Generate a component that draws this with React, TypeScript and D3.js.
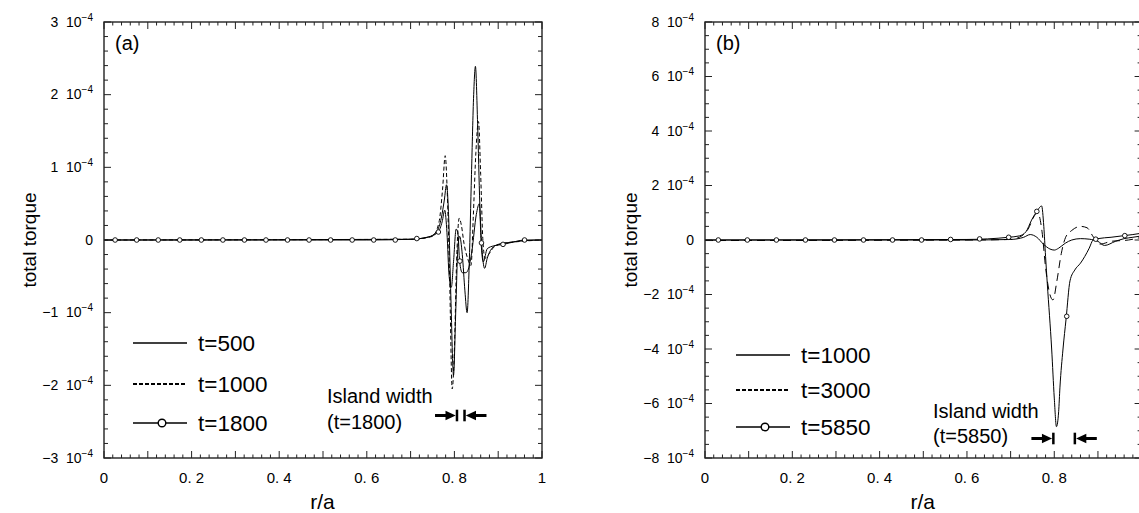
import React from "react";
import * as d3 from "d3";

type Pt = [number, number];

// values are in units of 1e-4 (total torque) against r/a

// panel (a)
const aT500: Pt[] = [
  [0, 0], [0.6, 0], [0.7, 0.01], [0.74, 0.04], [0.76, 0.12], [0.77, 0.3], [0.777, 0.55],
  [0.782, 0.76], [0.787, 0.3], [0.792, -0.8], [0.798, -1.86], [0.803, -1.0], [0.808, -0.1],
  [0.812, 0.05], [0.818, -0.2], [0.824, -0.7], [0.829, -1.0], [0.834, -0.3], [0.839, 0.9],
  [0.844, 2.0], [0.848, 2.39], [0.853, 1.6], [0.858, 0.5], [0.864, -0.2], [0.869, -0.39],
  [0.875, -0.25], [0.885, -0.12], [0.9, -0.06], [0.93, -0.03], [0.96, -0.01], [1, 0],
];
const aT1000: Pt[] = [
  [0, 0], [0.7, 0.01], [0.75, 0.05], [0.765, 0.25], [0.773, 0.7], [0.779, 1.16], [0.784, 0.6],
  [0.789, -0.5], [0.795, -2.05], [0.8, -1.5], [0.805, -0.3], [0.811, 0.3], [0.816, 0.2],
  [0.822, -0.05], [0.83, -0.25], [0.838, -0.35], [0.843, 0.3], [0.849, 1.2], [0.855, 1.63],
  [0.86, 0.9], [0.865, 0.0], [0.87, -0.25], [0.878, -0.2], [0.89, -0.1], [0.91, -0.05],
  [0.95, -0.02], [1, 0],
];
const aT1800: Pt[] = [
  [0, 0], [0.7, 0.01], [0.74, 0.04], [0.763, 0.11], [0.772, 0.25], [0.778, 0.41], [0.783, 0.1],
  [0.788, -0.5], [0.793, -0.65], [0.798, -0.3], [0.804, 0.15], [0.808, 0.1], [0.812, -0.3],
  [0.818, -0.45], [0.826, -0.45], [0.832, -0.4], [0.84, -0.15], [0.85, 0.35], [0.857, 0.5],
  [0.861, -0.04], [0.866, -0.3], [0.875, -0.12], [0.89, -0.08], [0.912, -0.06], [0.94, -0.02],
  [0.96, 0], [1, 0],
];
const aT1800Marks: Pt[] = [
  [0.0254, 0], [0.0746, 0], [0.1238, 0], [0.173, 0], [0.2222, 0], [0.2714, 0], [0.3206, 0],
  [0.3698, 0], [0.419, 0], [0.4682, 0], [0.5174, 0], [0.5666, 0], [0.6158, 0], [0.665, 0],
  [0.7142, 0.02], [0.7634, 0.11], [0.8126, -0.29], [0.8618, -0.04], [0.911, -0.06], [0.9602, 0],
];
const aLegend = ["t=500", "t=1000", "t=1800"];
const aIsland = [0.806, 0.823];
const aIslandLabel = ["Island width", "(t=1800)"];

// panel (b)
const bT1000: Pt[] = [
  [0, 0], [0.6, 0], [0.7, 0.02], [0.73, 0.1], [0.745, 0.2], [0.76, 0.1], [0.775, -0.15],
  [0.79, -0.33], [0.8, -0.37], [0.81, -0.3], [0.825, -0.12], [0.84, 0], [0.86, 0.05],
  [0.88, 0.03], [0.9, -0.05], [0.915, -0.2], [0.94, -0.05], [0.96, 0.05], [0.98, 0.1], [1, 0.15],
];
const bT3000: Pt[] = [
  [0, -0.02], [0.6, 0], [0.7, 0.02], [0.72, 0.1], [0.74, 0.4], [0.755, 0.9], [0.762, 1.0],
  [0.772, 0.3], [0.78, -1.0], [0.79, -2.0], [0.797, -2.2], [0.806, -1.5], [0.816, -0.5],
  [0.826, 0.1], [0.84, 0.35], [0.86, 0.5], [0.875, 0.45], [0.89, 0.1], [0.905, -0.15],
  [0.93, -0.05], [0.97, 0], [1, 0.1],
];
const bT5850: Pt[] = [
  [0, 0], [0.6, 0.02], [0.695, 0.1], [0.72, 0.15], [0.735, 0.3], [0.748, 0.73], [0.762, 1.1],
  [0.771, 1.25], [0.776, 0.5], [0.78, -0.6], [0.784, -1.6], [0.794, -4.0], [0.8, -5.8],
  [0.805, -6.85], [0.81, -6.3], [0.813, -5.4], [0.82, -4.0], [0.827, -2.9], [0.836, -1.5],
  [0.847, -1.1], [0.86, -0.85], [0.87, -0.6], [0.88, -0.3], [0.889, 0], [0.9, 0.05],
  [0.93, 0.1], [0.96, 0.16], [0.98, 0.2], [1, 0.25],
];
const bT5850Marks: Pt[] = [
  [0.0305, 0], [0.097, 0], [0.1635, 0], [0.23, 0], [0.2965, 0], [0.363, 0], [0.4295, 0],
  [0.496, 0], [0.5625, 0.02], [0.629, 0.04], [0.6955, 0.1], [0.76, 1.05], [0.8285, -2.8],
  [0.895, 0.03], [0.9615, 0.16],
];
const bLegend = ["t=1000", "t=3000", "t=5850"];
const bIsland = [0.798, 0.847];
const bIslandLabel = ["Island width", "(t=5850)"];

const xTickVals = [0, 0.2, 0.4, 0.6, 0.8, 1];
const xTickLabels = ["0", "0. 2", "0. 4", "0. 6", "0. 8", "1"];
const aYTicks = [-3, -2, -1, 0, 1, 2, 3];
const bYTicks = [-8, -6, -4, -2, 0, 2, 4, 6, 8];

const W = 1139;
const H = 513;
const FONT = "'Liberation Sans', Arial, Helvetica, sans-serif";

type PanelSpec = {
  left: number; right: number; top: number; bottom: number;
  yDomain: [number, number]; yTicks: number[]; yMinor: number;
  lines: { data: Pt[]; dash?: string }[];
  marks: Pt[];
  legend: string[];
  legendX: number; legendY: number[];
  legendDash: string;
  island: number[]; islandY: number;
  islandLabel: string[]; islandLabelX: number; islandLabelY: number[];
  tag: string;
};

const panels: PanelSpec[] = [
  {
    left: 104, right: 542, top: 22, bottom: 458, yDomain: [-3, 3], yTicks: aYTicks, yMinor: 0.2,
    lines: [{ data: aT500 }, { data: aT1000, dash: "4,2.5" }, { data: aT1800 }],
    marks: aT1800Marks, legend: aLegend, legendX: 133, legendY: [343, 384, 423], legendDash: "4,2",
    island: aIsland, islandY: 415.5, islandLabel: aIslandLabel, islandLabelX: 327,
    islandLabelY: [403, 429], tag: "(a)",
  },
  {
    left: 705, right: 1141.6, top: 22, bottom: 458, yDomain: [-8, 8], yTicks: bYTicks, yMinor: 0.5,
    lines: [{ data: bT1000 }, { data: bT3000, dash: "8,5" }, { data: bT5850 }],
    marks: bT5850Marks, legend: bLegend, legendX: 736, legendY: [355, 390, 427], legendDash: "4,2",
    island: bIsland, islandY: 438.5, islandLabel: bIslandLabel, islandLabelX: 933,
    islandLabelY: [418, 443], tag: "(b)",
  },
];

function Panel({ p }: { p: PanelSpec }) {
  const x = d3.scaleLinear().domain([0, 1]).range([p.left, p.right]);
  const y = d3.scaleLinear().domain(p.yDomain).range([p.bottom, p.top]);
  const line = d3.line<Pt>().x((d) => x(d[0])).y((d) => y(d[1])).curve(d3.curveMonotoneX);
  const xMinor = d3.range(0, 1.0001, 0.02);
  const yMinor = d3.range(p.yDomain[0], p.yDomain[1] + 1e-9, p.yMinor);
  const isXMajor = (v: number) => Math.abs(v * 10 - Math.round(v * 10)) < 1e-6;
  const isYMajor = (v: number) => p.yTicks.some((t) => Math.abs(t - v) < 1e-6);
  const ax = "#222";
  const labelEnd = p.left - 11;

  const [i1, i2] = p.island.map((r) => x(r));
  const ay = p.islandY;

  return (
    <g>
      {/* curves */}
      {p.lines.map((l, i) => (
        <path key={i} d={line(l.data) || ""} fill="none" stroke="#000" strokeWidth={1}
          strokeDasharray={l.dash} />
      ))}
      {p.marks.map((d, i) => (
        <circle key={i} cx={x(d[0])} cy={y(d[1])} r={2.3} fill="#fff" stroke="#000" strokeWidth={0.9} />
      ))}

      {/* frame */}
      <rect x={p.left} y={p.top} width={p.right - p.left} height={p.bottom - p.top}
        fill="none" stroke={ax} strokeWidth={1.4} />
      {xMinor.map((v, i) => {
        const len = isXMajor(v) ? 7 : 3.5;
        return (
          <g key={i}>
            <line x1={x(v)} x2={x(v)} y1={p.bottom} y2={p.bottom - len} stroke={ax} strokeWidth={1} />
            <line x1={x(v)} x2={x(v)} y1={p.top} y2={p.top + len} stroke={ax} strokeWidth={1} />
          </g>
        );
      })}
      {yMinor.map((v, i) => {
        const len = isYMajor(v) ? 7 : 4;
        return (
          <g key={i}>
            <line x1={p.left} x2={p.left + len} y1={y(v)} y2={y(v)} stroke={ax} strokeWidth={1} />
            <line x1={p.right} x2={p.right - len} y1={y(v)} y2={y(v)} stroke={ax} strokeWidth={1} />
          </g>
        );
      })}

      {/* tick labels (those falling past the picture edge are not shown, as in the source) */}
      {xTickVals.map((v, i) =>
        x(v) < W - 6 ? (
          <text key={i} x={x(v)} y={482.5} textAnchor="middle" fontSize={15} fontFamily={FONT}>
            {xTickLabels[i]}
          </text>
        ) : null
      )}
      {p.yTicks.map((v) => (
        <text key={v} x={labelEnd} y={y(v) + 4.8} textAnchor="end" fontSize={14} fontFamily={FONT}>
          {v === 0 ? (
            "0"
          ) : (
            <>
              {(v < 0 ? "\u2212" : "") + Math.abs(v) + "\u00a0\u00a010"}
              <tspan dy={-6} fontSize={10}>{"\u22124"}</tspan>
            </>
          )}
        </text>
      ))}

      {/* axis titles */}
      <text x={(p.left + Math.min(p.right, 1141.6)) / 2 - 0.5} y={509} textAnchor="middle"
        fontSize={21} fontFamily={FONT}>r/a</text>
      <text transform={`translate(${p.left - 68},${(p.top + p.bottom) / 2}) rotate(-90)`}
        textAnchor="middle" fontSize={19} fontFamily={FONT}>total torque</text>
      <text x={p.left + 11} y={50} fontSize={20} fontFamily={FONT}>{p.tag}</text>

      {/* legend */}
      {p.legend.map((lab, i) => {
        const ly = p.legendY[i];
        return (
          <g key={lab}>
            <line x1={p.legendX} x2={p.legendX + 54} y1={ly} y2={ly} stroke="#000"
              strokeWidth={i === 1 ? 2.2 : 1.6} strokeDasharray={i === 1 ? p.legendDash : undefined} />
            {i === 2 && (
              <circle cx={p.legendX + 29} cy={ly} r={3.8} fill="#fff" stroke="#000" strokeWidth={1.4} />
            )}
            <text x={p.legendX + 65} y={ly + 8} fontSize={22.5} fontFamily={FONT}>{lab}</text>
          </g>
        );
      })}

      {/* island width */}
      {p.islandLabel.map((s, i) => (
        <text key={s} x={p.islandLabelX} y={p.islandLabelY[i]} fontSize={20} fontFamily={FONT}>{s}</text>
      ))}
      <g fill="#000" stroke="none">
        <rect x={i1 - 22} y={ay - 1.5} width={12} height={3} />
        <path d={`M${i1 - 11.5},${ay - 4.8} L${i1 - 1.3},${ay} L${i1 - 11.5},${ay + 4.8} Z`} />
        <rect x={i1 - 1.3} y={ay - 5.8} width={2.5} height={11.6} />
        <rect x={i2 - 1.2} y={ay - 5.8} width={2.5} height={11.6} />
        <path d={`M${i2 + 11.5},${ay - 4.8} L${i2 + 1.3},${ay} L${i2 + 11.5},${ay + 4.8} Z`} />
        <rect x={i2 + 10} y={ay - 1.5} width={12} height={3} />
      </g>
    </g>
  );
}

export default function App() {
  return (
    <svg width={W} height={H} viewBox={`0 0 ${W} ${H}`}
      style={{ position: "absolute", left: 0, top: 0, background: "#fff" }}>
      <rect width={W} height={H} fill="#fff" />
      {panels.map((p) => (
        <Panel key={p.tag} p={p} />
      ))}
    </svg>
  );
}
